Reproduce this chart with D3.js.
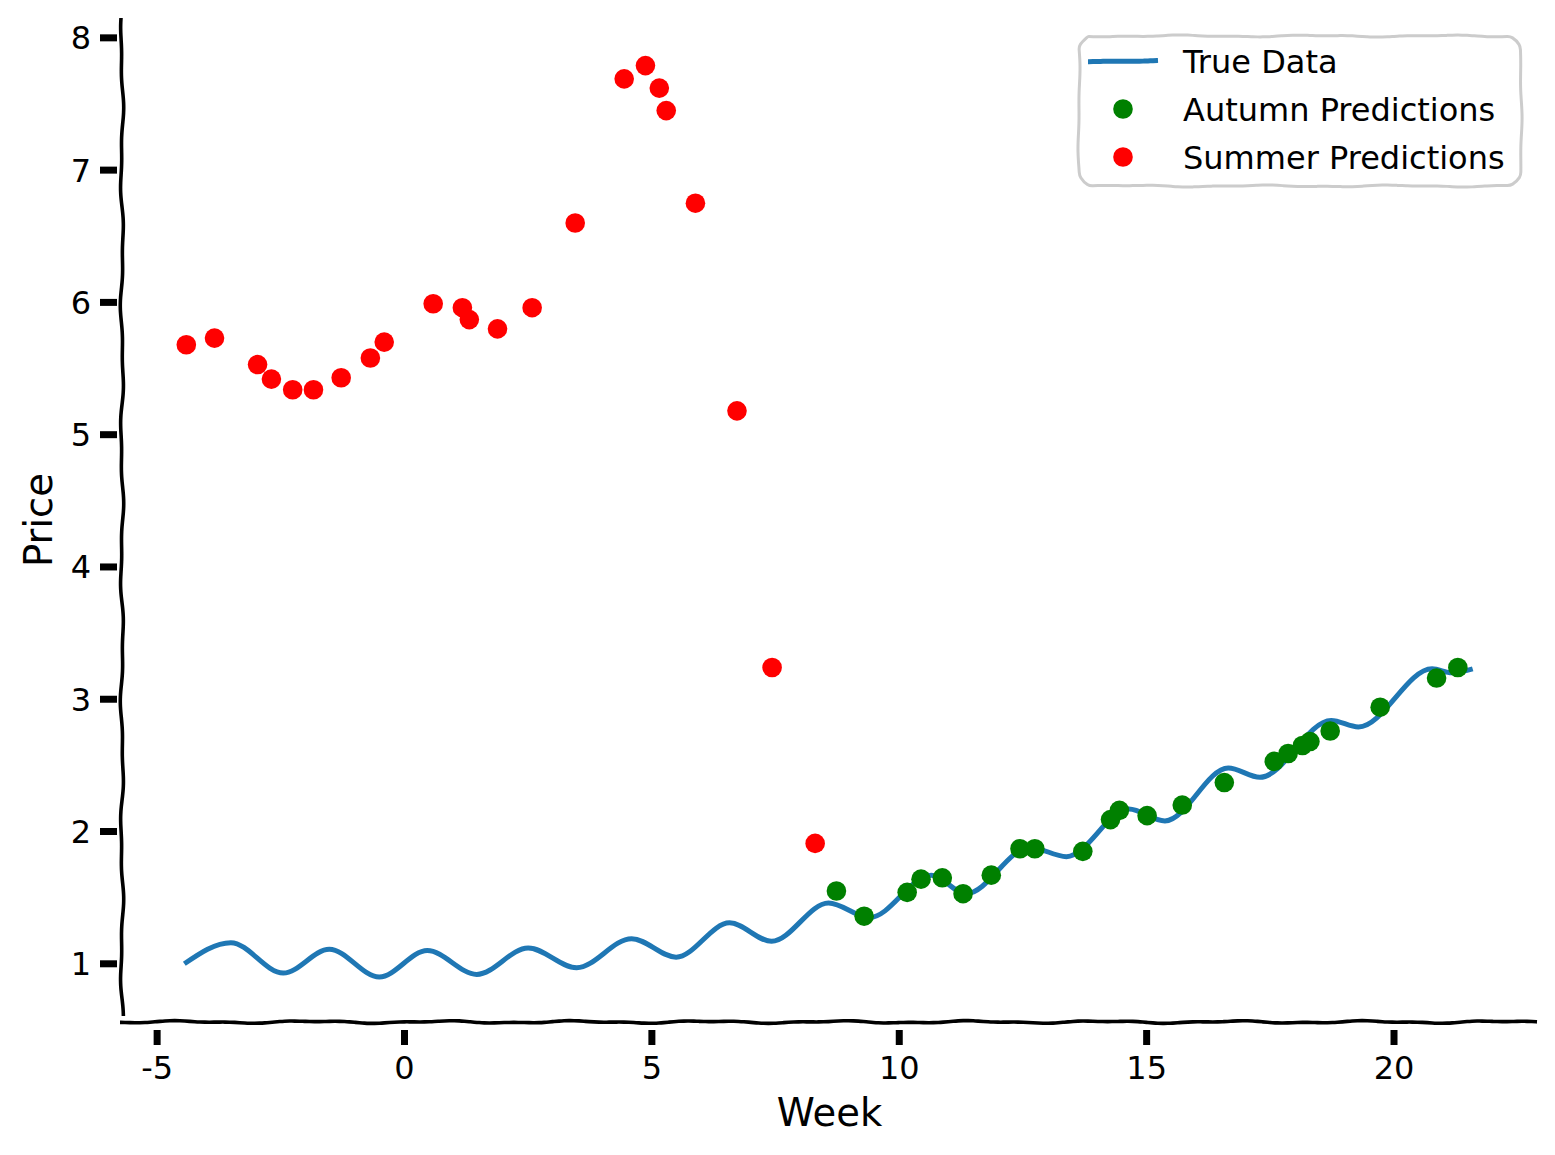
<!DOCTYPE html>
<html>
<head>
<meta charset="utf-8">
<script src="https://cdn.jsdelivr.net/npm/d3@7"></script>
<style>
  html, body { margin: 0; padding: 0; background: #fff; }
  svg { display: block; font-family: 'DejaVu Sans', sans-serif; }
</style>
</head>
<body>
<div id="chart"></div>
<script>
// true data line (extrema of the wave)
const trueWeek = [-4.45, -3.51, -2.45, -1.52, -0.51, 0.46, 1.46, 2.50, 3.48, 4.59, 5.49, 6.57, 7.42, 8.57, 9.40, 10.65, 11.35, 12.64, 13.38, 14.64, 15.37, 16.65, 17.29, 18.73, 19.28, 20.77, 21.17, 21.59]
const truePrice = [1.00, 1.16, 0.93, 1.11, 0.90, 1.10, 0.92, 1.12, 0.97, 1.19, 1.05, 1.31, 1.17, 1.46, 1.35, 1.67, 1.53, 1.88, 1.81, 2.17, 2.08, 2.48, 2.41, 2.84, 2.79, 3.23, 3.20, 3.23]

const autumnWeek = [8.73, 9.29, 10.16, 10.44, 10.87, 11.29, 11.86, 12.44, 12.74, 13.71, 14.27, 14.45, 15.01, 15.72, 16.57, 17.58, 17.86, 18.15, 18.30, 18.71, 19.72, 20.86, 21.29]
const autumnPrice = [1.55, 1.36, 1.54, 1.64, 1.65, 1.53, 1.67, 1.87, 1.87, 1.85, 2.09, 2.16, 2.12, 2.20, 2.37, 2.53, 2.59, 2.65, 2.68, 2.76, 2.94, 3.16, 3.24]

const summerWeek = [-4.41, -3.84, -2.97, -2.69, -2.26, -1.84, -1.28, -0.69, -0.41, 0.58, 1.17, 1.31, 1.88, 2.58, 3.45, 4.44, 4.87, 5.15, 5.29, 5.88, 6.72, 7.43, 8.30]
const summerPrice = [5.68, 5.73, 5.53, 5.42, 5.34, 5.34, 5.43, 5.58, 5.70, 5.99, 5.96, 5.87, 5.80, 5.96, 6.60, 7.69, 7.79, 7.62, 7.45, 6.75, 5.18, 3.24, 1.91]

const xTicks = [-5, 0, 5, 10, 15, 20]
const yTicks = [1, 2, 3, 4, 5, 6, 7, 8]

const seriesNames = ['True Data', 'Autumn Predictions', 'Summer Predictions']
const seriesColors = ['#1f77b4', 'green', 'red']

const width = 1555
const height = 1155
const margin = { top: 18, right: 18, bottom: 133, left: 122 }

const svg = d3.select('#chart')
  .append('svg')
  .attr('width', width)
  .attr('height', height)

const x = d3.scaleLinear()
  .domain([-5.71, 22.89])
  .range([margin.left, width - margin.right])

const y = d3.scaleLinear()
  .domain([0.56, 8.15])
  .range([height - margin.bottom, margin.top])

// hand drawn look: a line with a gentle, deterministic wobble
function wobble (x0, y0, x1, y1, seed, amp = 1.8) {
  const len = Math.hypot(x1 - x0, y1 - y0)
  const n = Math.max(2, Math.ceil(len / 5))
  const nx = -(y1 - y0) / len
  const ny = (x1 - x0) / len
  const pts = []
  for (let i = 0; i <= n; i++) {
    const t = i / n
    const d = len * t
    const off = amp * (0.7 * Math.sin(d / 21 + seed) + 0.4 * Math.sin(d / 9 + seed * 2.7))
    pts.push([x0 + (x1 - x0) * t + nx * off, y0 + (y1 - y0) * t + ny * off])
  }
  return pts
}

const sketch = d3.line().curve(d3.curveBasis)

const [xl, xr] = x.range()
const [yb, yt] = y.range()

// spines
svg.append('path')
  .attr('d', sketch(wobble(xl, yt, xl, yb - 6, 0.4, 1.6)))
  .attr('fill', 'none')
  .attr('stroke', '#000')
  .attr('stroke-width', 3.6)

svg.append('path')
  .attr('d', sketch(wobble(xl - 2, yb, xr, yb, 1.9, 1.3)))
  .attr('fill', 'none')
  .attr('stroke', '#000')
  .attr('stroke-width', 3.6)

// ticks
svg.append('g')
  .selectAll('line')
  .data(yTicks)
  .join('line')
  .attr('x1', xl - 22)
  .attr('x2', xl - 5)
  .attr('y1', d => y(d))
  .attr('y2', d => y(d))
  .attr('stroke', '#000')
  .attr('stroke-width', 7)

svg.append('g')
  .selectAll('line')
  .data(xTicks)
  .join('line')
  .attr('x1', d => x(d))
  .attr('x2', d => x(d))
  .attr('y1', yb + 8)
  .attr('y2', yb + 23)
  .attr('stroke', '#000')
  .attr('stroke-width', 7)

svg.append('g')
  .selectAll('text')
  .data(yTicks)
  .join('text')
  .attr('x', xl - 31)
  .attr('y', d => y(d))
  .attr('dy', '0.36em')
  .attr('text-anchor', 'end')
  .attr('font-size', 32)
  .text(d => d)

svg.append('g')
  .selectAll('text')
  .data(xTicks)
  .join('text')
  .attr('x', d => x(d))
  .attr('y', yb + 57)
  .attr('text-anchor', 'middle')
  .attr('font-size', 32)
  .text(d => String(d))

// axis labels
svg.append('text')
  .attr('x', (xl + xr) / 2)
  .attr('y', 1126)
  .attr('text-anchor', 'middle')
  .attr('font-size', 38.5)
  .text('Week')

svg.append('text')
  .attr('transform', `translate(52,${(yt + yb) / 2}) rotate(-90)`)
  .attr('text-anchor', 'middle')
  .attr('font-size', 38.5)
  .text('Price')

// true data
const trueData = trueWeek.map((w, i) => ({ week: w, price: truePrice[i] }))
svg.append('path')
  .datum(trueData)
  .attr('d', d3.line()
    .x(d => x(d.week))
    .y(d => y(d.price))
    .curve(d3.curveMonotoneX))
  .attr('fill', 'none')
  .attr('stroke', seriesColors[0])
  .attr('stroke-width', 5)

// predictions
svg.append('g')
  .selectAll('circle')
  .data(autumnWeek.map((w, i) => ({ week: w, price: autumnPrice[i] })))
  .join('circle')
  .attr('cx', d => x(d.week))
  .attr('cy', d => y(d.price))
  .attr('r', 9.8)
  .attr('fill', seriesColors[1])

svg.append('g')
  .selectAll('circle')
  .data(summerWeek.map((w, i) => ({ week: w, price: summerPrice[i] })))
  .join('circle')
  .attr('cx', d => x(d.week))
  .attr('cy', d => y(d.price))
  .attr('r', 9.8)
  .attr('fill', seriesColors[2])

// legend
const lg = { x0: 1079, y0: 36, x1: 1521, y1: 186, r: 9 }
const box = []
  .concat(wobble(lg.x0 + lg.r, lg.y0, lg.x1 - lg.r, lg.y0, 0.3, 1.0))
  .concat(wobble(lg.x1, lg.y0 + lg.r, lg.x1, lg.y1 - lg.r, 1.1, 1.0))
  .concat(wobble(lg.x1 - lg.r, lg.y1, lg.x0 + lg.r, lg.y1, 2.2, 1.0))
  .concat(wobble(lg.x0, lg.y1 - lg.r, lg.x0, lg.y0 + lg.r, 3.0, 1.0))
box.push(box[0])
svg.append('path')
  .attr('d', d3.line().curve(d3.curveBasisClosed)(box))
  .attr('fill', 'rgba(255,255,255,0.8)')
  .attr('stroke', '#cccccc')
  .attr('stroke-width', 3)

const rowY = d => 61 + d * 48
const legend = svg.append('g')

legend.append('path')
  .attr('d', sketch(wobble(1088, rowY(0), 1158, rowY(0), 0.8, 0.8)))
  .attr('fill', 'none')
  .attr('stroke', seriesColors[0])
  .attr('stroke-width', 5)

legend.selectAll('circle')
  .data([1, 2])
  .join('circle')
  .attr('cx', 1123)
  .attr('cy', d => rowY(d))
  .attr('r', 9.8)
  .attr('fill', d => seriesColors[d])

legend.selectAll('text')
  .data(seriesNames)
  .join('text')
  .attr('x', 1183)
  .attr('y', (d, i) => rowY(i))
  .attr('dy', '0.36em')
  .attr('font-size', 32)
  .text(d => d)
</script>
</body>
</html>
